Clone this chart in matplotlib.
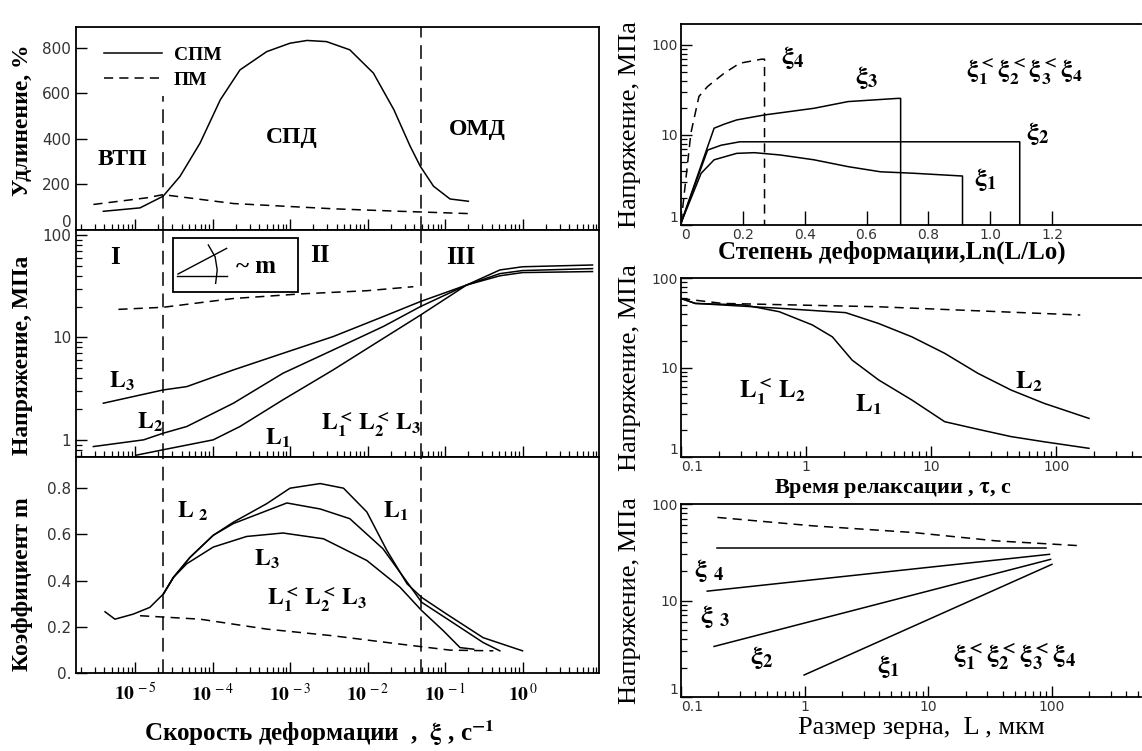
import numpy as np
import matplotlib
matplotlib.use('Agg')
import matplotlib.pyplot as plt
from matplotlib.ticker import LogLocator, NullFormatter
from matplotlib.patches import Rectangle

plt.rcParams['mathtext.fontset'] = 'stix'
plt.rcParams['font.family'] = ['DejaVu Sans']
SERIF = ['Liberation Serif', 'DejaVu Serif']

# ---- elongation vs strain rate (top left) ----
spm_x = [3.9e-6, 1.16e-5, 2.3e-5, 3.8e-5, 6.9e-5, 1.26e-4, 2.26e-4, 5.0e-4, 1.0e-3, 1.66e-3,
         2.95e-3, 5.9e-3, 1.19e-2, 2.19e-2, 3.55e-2, 4.8e-2, 7.1e-2, 0.116, 0.20]
spm_y = [82, 97, 148, 235, 381, 571, 702, 782, 819, 831, 826, 790, 688, 527, 367, 279, 192, 136, 126]
pm_x = [2.9e-6, 1.41e-5, 2.3e-5, 1.86e-4, 3.6e-3, 2.63e-2, 0.20]
pm_y = [112, 141, 155, 116, 93, 82, 72]

# ---- flow stress vs strain rate (middle left) ----
s_pm_x = [6.1e-6, 2.3e-5, 1.86e-4, 1.35e-3, 9.8e-3, 3.9e-2]
s_pm_y = [18.8, 19.7, 24, 26.6, 28.6, 31.3]
s_L3_x = [3.9e-6, 2.3e-5, 4.65e-5, 1.86e-4, 8.1e-4, 3.6e-3, 1.6e-2, 4.8e-2, 0.19, 0.51, 1.0, 8.0]
s_L3_y = [2.28, 3.07, 3.31, 4.82, 7.0, 10.2, 16, 22.4, 32.5, 40, 43, 44]
s_L2_x = [2.9e-6, 1.29e-5, 2.3e-5, 4.65e-5, 1.86e-4, 8.1e-4, 3.6e-3, 1.6e-2, 4.8e-2, 0.19, 0.51, 1.0, 8.0]
s_L2_y = [0.86, 1.0, 1.16, 1.35, 2.28, 4.47, 7.55, 12.8, 20, 32.5, 42, 45, 47]
s_L1_x = [1.05e-5, 2.3e-5, 1.02e-4, 2.26e-4, 8.1e-4, 3.6e-3, 1.6e-2, 4.8e-2, 0.19, 0.51, 1.0, 8.0]
s_L1_y = [0.71, 0.80, 1.0, 1.35, 2.46, 4.82, 9.8, 16.5, 32.5, 45.6, 49, 51]

# ---- coefficient m vs strain rate (bottom left) ----
m_L1_x = [4.1e-6, 5.5e-6, 9.5e-6, 1.55e-5, 2.32e-5, 3.13e-5, 5.1e-5, 1.02e-4, 1.86e-4, 5.0e-4,
          1.0e-3, 2.45e-3, 4.9e-3, 9.8e-3, 1.78e-2, 3.24e-2, 5.0e-2, 0.105, 0.31, 1.0]
m_L1_y = [0.265, 0.233, 0.255, 0.284, 0.342, 0.414, 0.50, 0.596, 0.653, 0.733,
          0.80, 0.82, 0.80, 0.697, 0.53, 0.386, 0.327, 0.255, 0.153, 0.096]
m_L2_x = [2.32e-5, 3.13e-5, 5.1e-5, 1.02e-4, 1.86e-4, 9.1e-4, 2.45e-3, 5.9e-3, 1.58e-2, 5.0e-2,
          0.116, 0.31, 0.51]
m_L2_y = [0.342, 0.414, 0.50, 0.596, 0.647, 0.736, 0.71, 0.668, 0.538, 0.306, 0.226, 0.132, 0.096]
m_L3_x = [2.32e-5, 3.13e-5, 4.65e-5, 1.02e-4, 2.75e-4, 8.1e-4, 2.7e-3, 9.8e-3, 2.63e-2, 5.0e-2,
          9.5e-2, 0.156, 0.234]
m_L3_y = [0.342, 0.414, 0.473, 0.545, 0.591, 0.606, 0.581, 0.487, 0.371, 0.27, 0.183, 0.11, 0.103]
m_pm_x = [1.16e-5, 6.9e-5, 5.0e-4, 3.6e-3, 2.63e-2, 0.116, 0.42]
m_pm_y = [0.248, 0.233, 0.19, 0.161, 0.125, 0.099, 0.096]

# boundaries between regions I / II / III
region_edges = [2.3e-5, 4.9e-2]

# ---- stress vs strain (top right) ----
e4_x = [0, 0.02, 0.032, 0.058, 0.086, 0.14, 0.19, 0.26, 0.27, 0.27]
e4_y = [1.05, 4.4, 10.5, 26.8, 34.6, 48.7, 62.7, 69.5, 69.5, 1.0]
e3_x = [0, 0.107, 0.14, 0.18, 0.27, 0.43, 0.54, 0.70, 0.71, 0.71]
e3_y = [1.05, 11.9, 13.2, 14.7, 16.7, 19.8, 23.5, 25.5, 25.5, 1.0]
e2_x = [0, 0.086, 0.13, 0.19, 1.095, 1.095]
e2_y = [1.05, 6.8, 7.7, 8.4, 8.4, 1.0]
e1_x = [0, 0.065, 0.107, 0.18, 0.237, 0.32, 0.43, 0.54, 0.645, 0.75, 0.91, 0.91]
e1_y = [1.05, 3.75, 5.3, 6.25, 6.36, 6.0, 5.3, 4.45, 3.9, 3.76, 3.5, 1.0]

# ---- stress relaxation (middle right) ----
r_pm_x = [0.1, 0.215, 3.8, 155]
r_pm_y = [59, 52, 47.7, 38.6]
r_L2_x = [0.1, 0.13, 0.61, 2.07, 3.8, 7.0, 12.8, 23.6, 43.4, 79.6, 182]
r_L2_y = [59, 52, 45.9, 41, 31, 22, 14.4, 8.6, 5.6, 3.98, 2.7]
r_L1_x = [0.1, 0.13, 0.32, 0.61, 1.12, 1.62, 2.33, 3.8, 7.0, 12.8, 23.6, 43.4, 79.6, 182]
r_L1_y = [59, 52, 50, 42, 29.9, 22, 12.1, 7.25, 4.33, 2.48, 2.04, 1.69, 1.48, 1.25]

# ---- stress vs grain size (bottom right) ----
g_pm_x = [0.197, 1.16, 7.46, 35.3, 178]
g_pm_y = [72.6, 59.4, 50.7, 41.5, 36.8]
g4_x, g4_y = [0.197, 89.7], [35.4, 35.4]
g3_x, g3_y = [0.163, 95.5], [12.5, 30.1]
g2_x, g2_y = [0.185, 97.6], [3.34, 26.7]
g1_x, g1_y = [0.99, 100], [1.69, 23.7]

# inset sketch (axes fraction) for the "~ m" box
sk_base = ([0.1925, 0.288], [0.797, 0.797])
sk_slope = ([0.195, 0.288], [0.806, 0.919])
sk_arc = ([0.253, 0.266, 0.270, 0.267], [0.934, 0.882, 0.824, 0.765])

fig = plt.figure(figsize=(11.42, 7.51), dpi=100)
W, H = 1142., 751.


def box(x0, y0, x1, y1):
    return [x0 / W, 1 - y1 / H, (x1 - x0) / W, (y1 - y0) / H]


def style(ax, logx=False, logy=False, size=11, pad=3.5):
    for s in ax.spines.values():
        s.set_linewidth(1.3)
    ax.tick_params(which='both', direction='in', color='k', labelcolor='#333',
                   labelsize=size, pad=pad)
    ax.tick_params(which='major', length=8, width=1.0)
    ax.tick_params(which='minor', length=4, width=0.9)
    if logx:
        ax.xaxis.set_minor_locator(LogLocator(base=10, subs=np.arange(2, 10)))
        ax.xaxis.set_minor_formatter(NullFormatter())
    if logy:
        ax.yaxis.set_minor_locator(LogLocator(base=10, subs=np.arange(2, 10)))
        ax.yaxis.set_minor_formatter(NullFormatter())


def note(ax, x, y, s, size=16, **kw):
    ax.text(x, y, s, fontsize=size, family=SERIF, weight='bold', ha='center', va='center', **kw)


LW = 1.1
DASH = (6, 4)
VDASH = (9, 5)
rate_lim = (1.73e-6, 9.7)
rate_ticks = [1e-5, 1e-4, 1e-3, 1e-2, 1e-1, 1e0]
rate_labels = [r'$\mathbf{10}^{\,-5}$', r'$\mathbf{10}^{\,-4}$', r'$\mathbf{10}^{\,-3}$',
               r'$\mathbf{10}^{\,-2}$', r'$\mathbf{10}^{\,-1}$', r'$\mathbf{10}^{\,0}$']

ax1 = fig.add_axes(box(76, 27, 599, 230))
ax2 = fig.add_axes(box(76, 230, 599, 457), sharex=ax1)
ax3 = fig.add_axes(box(76, 457, 599, 673), sharex=ax1)

# top left
ax1.set_xscale('log')
ax1.plot(spm_x, spm_y, 'k-', lw=LW, label='СПМ')
ax1.plot(pm_x, pm_y, 'k--', lw=LW, dashes=DASH, label='ПМ')
ax1.axvline(region_edges[0], ymin=0, ymax=0.66, color='k', lw=LW, ls='--', dashes=VDASH)
ax1.axvline(region_edges[1], color='k', lw=LW, ls='--', dashes=VDASH)
ax1.set_xlim(*rate_lim)
ax1.set_ylim(0, 890)
ax1.set_yticks([0, 200, 400, 600, 800])
style(ax1, logx=True)
ax1.tick_params(axis='x', labelbottom=False)
ax1.get_yticklabels()[0].set_va('bottom')
ax1.legend(loc='upper left', bbox_to_anchor=(0.02, 0.99), frameon=False, handlelength=3.0,
           handletextpad=0.6, labelspacing=0.35,
           prop={'family': SERIF, 'weight': 'bold', 'size': 14})
note(ax1, 6.8e-6, 308, 'ВТП', 17)
note(ax1, 1.06e-3, 405, 'СПД', 17)
note(ax1, 0.259, 440, 'ОМД', 17)
ax1.set_ylabel('Удлинение, %', family=SERIF, weight='bold', fontsize=17)
ax1.yaxis.set_label_coords(-0.103, 0.54)
ax1.yaxis.label.set_va('center')

# middle left
ax2.set_yscale('log')
ax2.plot(s_pm_x, s_pm_y, 'k--', lw=LW, dashes=DASH)
ax2.plot(s_L3_x, s_L3_y, 'k-', lw=LW)
ax2.plot(s_L2_x, s_L2_y, 'k-', lw=LW)
ax2.plot(s_L1_x, s_L1_y, 'k-', lw=LW)
for xe in region_edges:
    ax2.axvline(xe, color='k', lw=LW, ls='--', dashes=VDASH)
ax2.set_ylim(0.68, 112)
ax2.set_yticks([1, 10, 100], ['1', '10', '100'])
style(ax2, logx=True, logy=True)
ax2.tick_params(axis='x', labelbottom=False)
ax2.add_patch(Rectangle((0.185, 0.728), 0.239, 0.235, transform=ax2.transAxes,
                        fill=False, ec='k', lw=1.3))
ax2.plot(*sk_base, transform=ax2.transAxes, color='k', lw=1.0)
ax2.plot(*sk_slope, transform=ax2.transAxes, color='k', lw=1.0)
ax2.plot(*sk_arc, transform=ax2.transAxes, color='k', lw=1.0)
ax2.text(0.345, 0.838, '~ m', transform=ax2.transAxes, fontsize=18, family=SERIF,
         weight='bold', ha='center', va='center')
note(ax2, 5.5e-6, 60, 'I', 18)
note(ax2, 2.44e-3, 63, 'II', 18)
note(ax2, 0.16, 60, 'III', 18)
note(ax2, 6.8e-6, 3.7, r'$\mathbf{L_3}$', 17)
note(ax2, 1.55e-5, 1.47, r'$\mathbf{L_2}$', 17)
note(ax2, 7.0e-4, 1.04, r'$\mathbf{L_1}$', 17)
note(ax2, 1.11e-2, 1.4, r'$\mathbf{L_1^{<}\,L_2^{<}\,L_3}$', 17)
ax2.set_ylabel('Напряжение, МПа', family=SERIF, weight='bold', fontsize=17)
ax2.yaxis.set_label_coords(-0.103, 0.45)
ax2.yaxis.label.set_va('center')

# bottom left
ax3.plot(m_L1_x, m_L1_y, 'k-', lw=LW)
ax3.plot(m_L2_x, m_L2_y, 'k-', lw=LW)
ax3.plot(m_L3_x, m_L3_y, 'k-', lw=LW)
ax3.plot(m_pm_x, m_pm_y, 'k--', lw=LW, dashes=DASH)
for xe in region_edges:
    ax3.axvline(xe, color='k', lw=LW, ls='--', dashes=VDASH)
ax3.set_ylim(0, 0.935)
ax3.set_yticks([0, 0.2, 0.4, 0.6, 0.8], ['0.', '0.2', '0.4', '0.6', '0.8'])
style(ax3, logx=True)
ax3.set_xticks(rate_ticks, rate_labels)
ax3.tick_params(axis='x', labelsize=14, labelcolor='k', pad=7)
note(ax3, 5.5e-5, 0.70, r'$\mathbf{L\ _2}$', 17)
note(ax3, 2.34e-2, 0.70, r'$\mathbf{L_1}$', 17)
note(ax3, 5.0e-4, 0.49, r'$\mathbf{L_3}$', 17)
note(ax3, 2.24e-3, 0.318, r'$\mathbf{L_1^{<}\,L_2^{<}\,L_3}$', 17)
ax3.set_ylabel('Коэффициент m', family=SERIF, weight='bold', fontsize=17)
ax3.yaxis.set_label_coords(-0.103, 0.41)
ax3.yaxis.label.set_va('center')
ax3.set_xlabel(r'Скорость деформации  ,  $\mathbf{\xi}$ , с$^{\mathbf{-1}}$',
               family=SERIF, weight='bold', fontsize=18)
ax3.xaxis.set_label_coords(0.465, -0.278)
ax3.xaxis.label.set_va('center')

# top right
ax4 = fig.add_axes(box(681, 24, 1141, 225))
ax4.set_yscale('log')
ax4.plot(e4_x, e4_y, 'k--', lw=LW, dashes=DASH)
ax4.plot(e3_x, e3_y, 'k-', lw=LW)
ax4.plot(e2_x, e2_y, 'k-', lw=LW)
ax4.plot(e1_x, e1_y, 'k-', lw=LW)
ax4.set_xlim(0, 1.487)
ax4.set_ylim(1, 171)
ax4.set_xticks([0, 0.2, 0.4, 0.6, 0.8, 1.0, 1.2], ['0', '0.2', '0.4', '0.6', '0.8', '1.0', '1.2'])
ax4.set_yticks([1, 10, 100], ['1', '10', '100'])
style(ax4, logy=True, size=10, pad=2)
ax4.tick_params(axis='x', length=10)
note(ax4, 0.36, 73, r'$\mathbf{\xi_4}$', 19)
note(ax4, 0.60, 43, r'$\mathbf{\xi_3}$', 19)
note(ax4, 1.155, 10.5, r'$\mathbf{\xi_2}$', 19)
note(ax4, 0.985, 3.2, r'$\mathbf{\xi_1}$', 19)
note(ax4, 1.11, 50, r'$\mathbf{\xi_1^{<}\xi_2^{<}\xi_3^{<}\xi_4}$', 18)
ax4.set_xlabel('Степень деформации,Ln(L/Lo)', family=SERIF, weight='bold', fontsize=18)
ax4.xaxis.set_label_coords(0.459, -0.135)
ax4.xaxis.label.set_va('center')

# middle right
ax5 = fig.add_axes(box(681, 278, 1141, 457))
ax5.set_xscale('log')
ax5.set_yscale('log')
ax5.plot(r_pm_x, r_pm_y, 'k--', lw=LW, dashes=DASH)
ax5.plot(r_L2_x, r_L2_y, 'k-', lw=LW)
ax5.plot(r_L1_x, r_L1_y, 'k-', lw=LW)
ax5.set_xlim(0.1, 474)
ax5.set_ylim(1, 100)
ax5.set_xticks([0.1, 1, 10, 100], ['0.1', '1', '10', '100'])
ax5.set_yticks([1, 10, 100], ['1', '10', '100'])
style(ax5, logx=True, logy=True, size=10, pad=2)
note(ax5, 0.54, 5.3, r'$\mathbf{L_1^{<}\,L_2}$', 18)
note(ax5, 3.16, 3.8, r'$\mathbf{L_1}$', 18)
note(ax5, 60, 6.9, r'$\mathbf{L_2}$', 18)
ax5.set_xlabel(r'Время релаксации , $\mathbf{\tau}$, с', family=SERIF, weight='bold', fontsize=16)
ax5.xaxis.set_label_coords(0.461, -0.175)
ax5.xaxis.label.set_va('center')

# bottom right
ax6 = fig.add_axes(box(681, 504, 1141, 697))
ax6.set_xscale('log')
ax6.set_yscale('log')
ax6.plot(g_pm_x, g_pm_y, 'k--', lw=LW, dashes=DASH)
ax6.plot(g4_x, g4_y, 'k-', lw=LW)
ax6.plot(g3_x, g3_y, 'k-', lw=LW)
ax6.plot(g2_x, g2_y, 'k-', lw=LW)
ax6.plot(g1_x, g1_y, 'k-', lw=LW)
ax6.set_xlim(0.1, 525)
ax6.set_ylim(1, 100)
ax6.set_xticks([0.1, 1, 10, 100], ['0.1', '1', '10', '100'])
ax6.set_yticks([1, 10, 100], ['1', '10', '100'])
style(ax6, logx=True, logy=True, size=10, pad=2)
note(ax6, 0.169, 20.5, r'$\mathbf{\xi\ _4}$', 19)
note(ax6, 0.188, 6.8, r'$\mathbf{\xi\ _3}$', 19)
note(ax6, 0.45, 2.55, r'$\mathbf{\xi_2}$', 19)
note(ax6, 4.8, 2.05, r'$\mathbf{\xi_1}$', 19)
note(ax6, 49.6, 2.6, r'$\mathbf{\xi_1^{<}\xi_2^{<}\xi_3^{<}\xi_4}$', 19)
ax6.set_xlabel('Размер зерна,  L , мкм', family=SERIF, fontsize=19)
ax6.xaxis.set_label_coords(0.522, -0.16)
ax6.xaxis.label.set_va('center')

for ax in (ax4, ax5, ax6):
    ax.spines['right'].set_visible(False)
    ax.set_ylabel('Напряжение, МПа', family=SERIF, fontsize=19)
    ax.yaxis.set_label_coords(-0.111, 0.5)
    ax.yaxis.label.set_va('center')
    ax.get_xticklabels()[0].set_ha('left')
    ax.get_yticklabels()[0].set_va('bottom')

fig.savefig('out.png', dpi=100)
